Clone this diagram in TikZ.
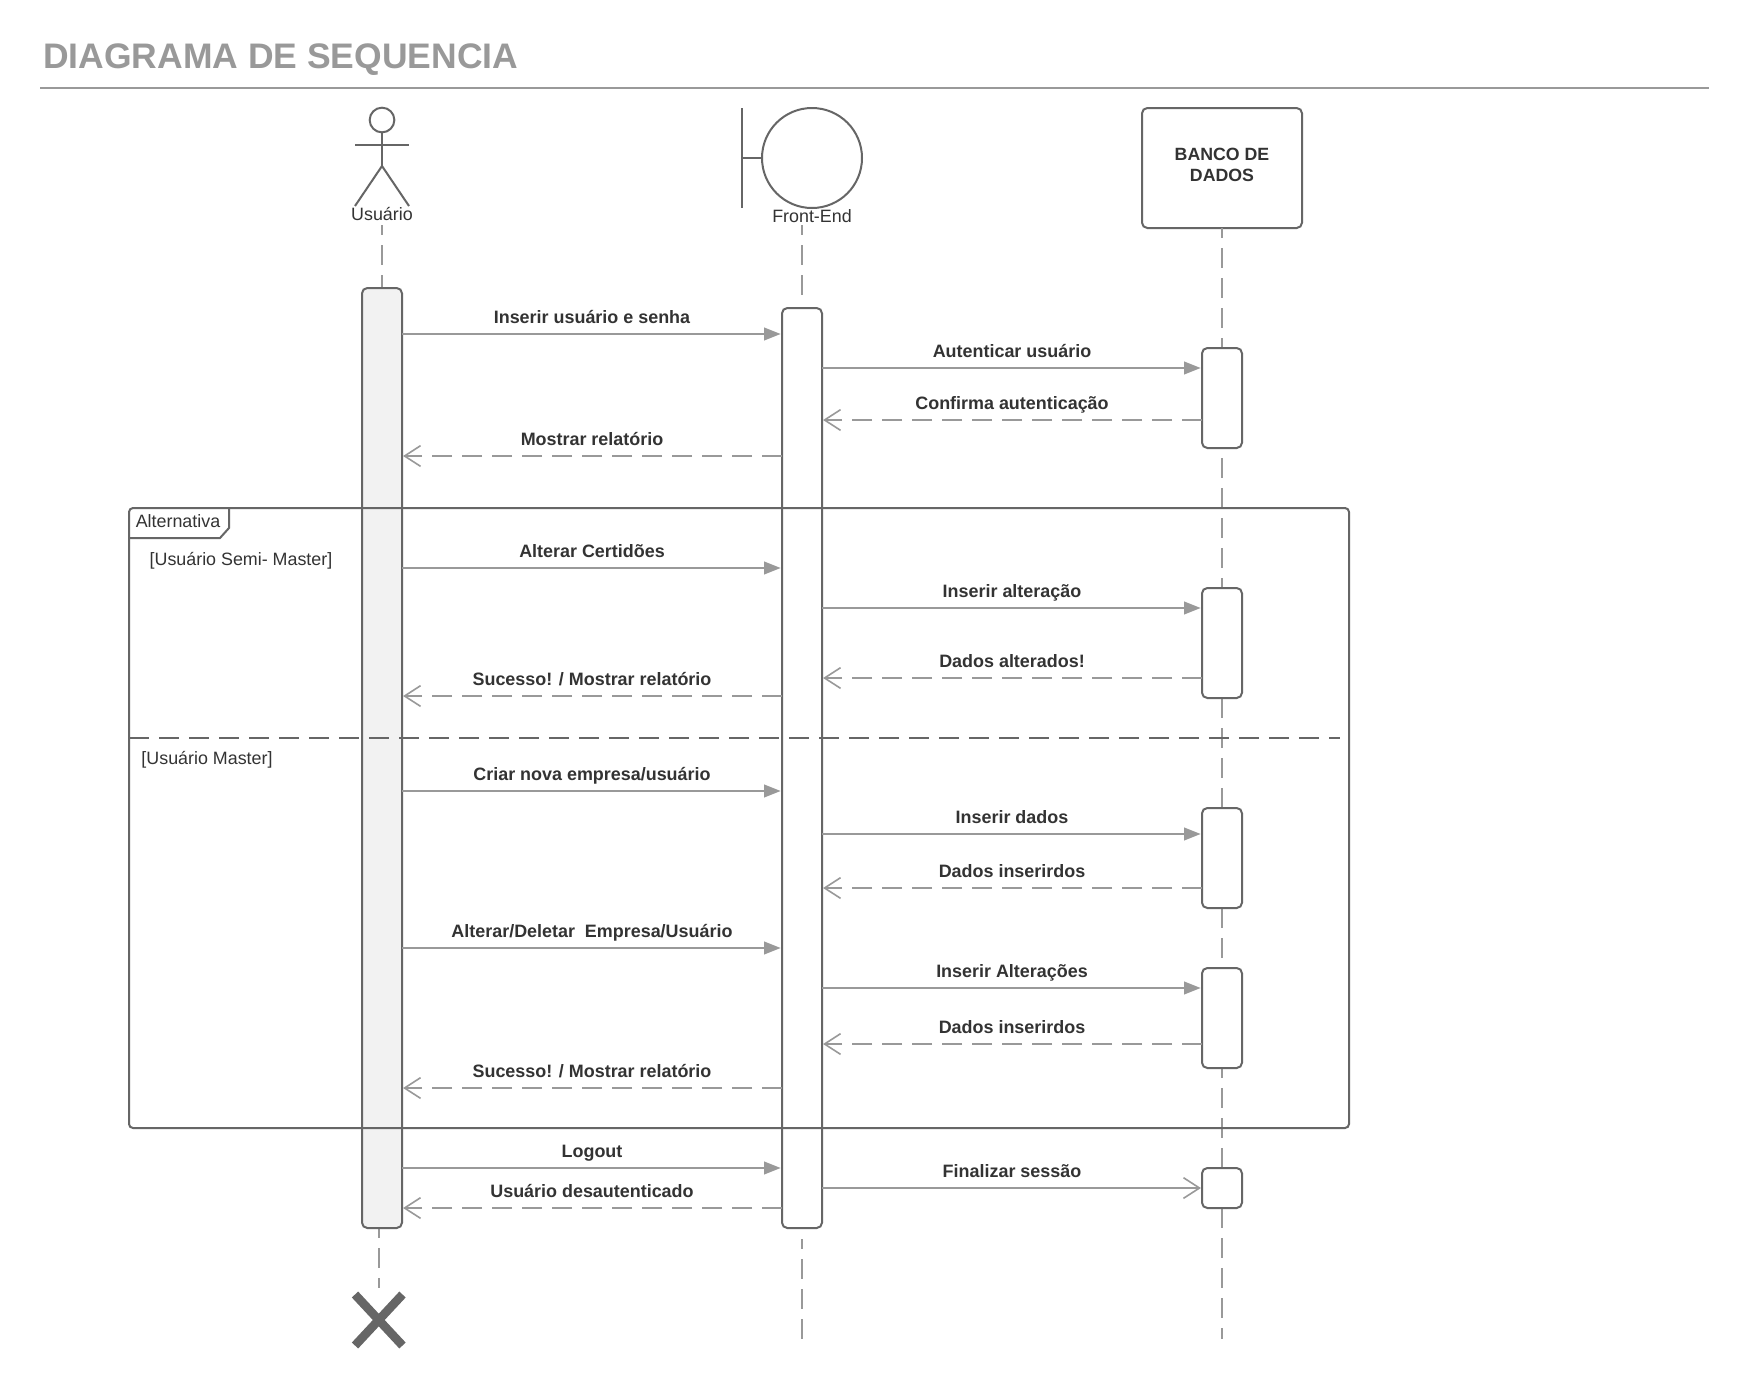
\documentclass[tikz,border=0pt]{standalone}
\usepackage{fontspec}
\setmainfont{Liberation Sans}
\usetikzlibrary{arrows.meta}
\definecolor{edgegray}{HTML}{666666}
\definecolor{linegray}{HTML}{999999}
\definecolor{textdark}{HTML}{333333}
\definecolor{actfill}{HTML}{F2F2F2}
\tikzset{
  x=0.75pt,y=-0.75pt,
  shapeline/.style={draw=edgegray,line width=1.5pt},
  lifeline/.style={draw=linegray,line width=1.35pt,dash pattern=on 15pt off 7.5pt,dash phase=7.5pt},
  actbox/.style={shapeline,fill=white,rounded corners=4pt,minimum width=30pt,inner sep=0pt,outer sep=0pt,rectangle},
  msgsync/.style={draw=linegray,line width=1.5pt,-{Triangle[length=12.5pt,width=9.5pt,fill=linegray]},shorten >=1pt},
  msgopen/.style={draw=linegray,line width=1.5pt,-{Straight Barb[length=12pt,width=15.5pt,line width=1.2pt]},shorten >=0.8pt},
  msgreturn/.style={draw=linegray,line width=1.5pt,dash pattern=on 15pt off 7.5pt,-{Straight Barb[length=12pt,width=15.5pt,line width=1.2pt,sep=0pt]},shorten >=0.8pt},
  msglabel/.style={pos=.5,anchor=base,yshift=8.1pt,inner sep=0pt,text=textdark,font=\fontsize{13.45pt}{16pt}\selectfont\bfseries},
  plainlabel/.style={inner sep=0pt,anchor=base,text=textdark,font=\fontsize{13.4pt}{16pt}\selectfont},
}
\begin{document}
\begin{tikzpicture}
\useasboundingbox[fill=white] (0,0) rectangle (1749,1393);

% title
\node[anchor=base west,inner sep=0pt,text=linegray,font=\fontsize{26.6pt}{32pt}\selectfont\bfseries] (title) at (43,68) {DIAGRAMA DE SEQUENCIA};
\coordinate (ruleL) at (40,88);
\coordinate (ruleR) at (1709,88);
\draw[draw=linegray,line width=1.5pt] (ruleL) -- (ruleR);

% actor
\node[circle,shapeline,minimum size=18.5pt,inner sep=0pt,outer sep=0pt] (head) at (382,120) {};
\coordinate (hip) at (382,166);
\coordinate (armL) at (355,145);
\coordinate (armR) at (409,145);
\coordinate (footL) at (355,206);
\coordinate (footR) at (409,206);
\draw[shapeline] (head.south) -- (hip);
\draw[shapeline] (armL) -- (armR);
\draw[shapeline] (footL) -- (hip) -- (footR);
\node[plainlabel] (lblU) at (382,220.5) {Usuário};

% boundary
\node[circle,shapeline,minimum size=75pt,inner sep=0pt,outer sep=0pt] (bound) at (812,158) {};
\coordinate (barT) at (742,108);
\coordinate (barB) at (742,208);
\coordinate (barM) at (742,158);
\draw[shapeline] (barT) -- (barB);
\draw[shapeline] (barM) -- (bound.west);
\node[plainlabel] (lblF) at (812,222.5) {Front-End};

% database
\node[rectangle,shapeline,rounded corners=4pt,minimum width=120pt,minimum height=90pt,inner sep=0pt,outer sep=0pt] (db) at (1222,168) {};
\node[plainlabel,font=\fontsize{13.3pt}{16pt}\selectfont\bfseries] (dbA) at (1222,160) {BANCO DE};
\node[plainlabel,font=\fontsize{13.3pt}{16pt}\selectfont\bfseries] (dbB) at (1222,181) {DADOS};

% lifelines
\coordinate (uT) at (382,225);
\coordinate (uB) at (382,288);
\coordinate (u2T) at (379,1228);
\coordinate (u2B) at (379,1288);
\coordinate (fT) at (802,225);
\coordinate (fB) at (802,298);
\coordinate (f2T) at (802,1239);
\coordinate (f2B) at (802,1339);
\coordinate (dEnd) at (1222,1339);
\draw[lifeline] (uT) -- (uB);
\draw[lifeline] (u2T) -- (u2B);
\draw[lifeline] (fT) -- (fB);
\draw[lifeline] (f2T) -- (f2B);
\draw[lifeline] (db.south) -- (dEnd);

% activations
\node[actbox,fill=actfill,minimum height=705pt] (aU) at (382,758) {};
\node[actbox,minimum height=690pt] (aF) at (802,768) {};
\node[actbox,minimum height=75pt] (d1) at (1222,398) {};
\node[actbox,minimum height=82.5pt] (d2) at (1222,643) {};
\node[actbox,minimum height=75pt] (d3) at (1222,858) {};
\node[actbox,minimum height=75pt] (d4) at (1222,1018) {};
\node[actbox,minimum height=30pt] (d5) at (1222,1188) {};

% destruction mark
\coordinate (xA) at (355,1294.5);
\coordinate (xB) at (402.5,1345.5);
\coordinate (xC) at (402.5,1294.5);
\coordinate (xD) at (355,1345.5);
\draw[draw=edgegray,line width=6.5pt] (xA) -- (xB);
\draw[draw=edgegray,line width=6.5pt] (xC) -- (xD);

% combined fragment
\node[rectangle,shapeline,rounded corners=3pt,minimum width=915pt,minimum height=465pt,inner sep=0pt,outer sep=0pt] (frag) at (739,818) {};
\coordinate (tabA) at (229,508);
\coordinate (tabB) at (229,528);
\coordinate (tabC) at (220,538);
\coordinate (tabD) at (129,538);
\draw[shapeline] (tabA) -- (tabB) -- (tabC) -- (tabD);
\node[plainlabel] (lblAlt) at (178,527) {Alternativa};
\node[plainlabel] (lblSemi) at (241,565) {[Usuário Semi- Master]};
\coordinate (divR) at (1340,738);
\draw[draw=edgegray,line width=1.5pt,dash pattern=on 15pt off 7.5pt] (frag.west |- divR) -- (divR);
\node[plainlabel] (lblMaster) at (207,764) {[Usuário Master]};

% messages
\draw[msgsync] (aU.east |- 0,334) -- node[msglabel] (m1) {Inserir usuário e senha} (aF.west |- 0,334);
\draw[msgsync] (aF.east |- 0,368) -- node[msglabel] (m2) {Autenticar usuário} (d1.west |- 0,368);
\draw[msgreturn] (d1.west |- 0,420) -- node[msglabel] (m3) {Confirma autenticação} (aF.east |- 0,420);
\draw[msgreturn] (aF.west |- 0,456) -- node[msglabel] (m4) {Mostrar relatório} (aU.east |- 0,456);

\draw[msgsync] (aU.east |- 0,568) -- node[msglabel] (m5) {Alterar Certidões} (aF.west |- 0,568);
\draw[msgsync] (aF.east |- 0,608) -- node[msglabel] (m6) {Inserir alteração} (d2.west |- 0,608);
\draw[msgreturn] (d2.west |- 0,678) -- node[msglabel] (m7) {Dados alterados!} (aF.east |- 0,678);
\draw[msgreturn] (aF.west |- 0,696) -- node[msglabel] (m8) {Sucesso! / Mostrar relatório} (aU.east |- 0,696);

\draw[msgsync] (aU.east |- 0,791) -- node[msglabel] (m9) {Criar nova empresa/usuário} (aF.west |- 0,791);
\draw[msgsync] (aF.east |- 0,834) -- node[msglabel] (m10) {Inserir dados} (d3.west |- 0,834);
\draw[msgreturn] (d3.west |- 0,888) -- node[msglabel] (m11) {Dados inserirdos} (aF.east |- 0,888);
\draw[msgsync] (aU.east |- 0,948) -- node[msglabel] (m12) {Alterar/Deletar\ \ Empresa/Usuário} (aF.west |- 0,948);
\draw[msgsync] (aF.east |- 0,988) -- node[msglabel] (m13) {Inserir Alterações} (d4.west |- 0,988);
\draw[msgreturn] (d4.west |- 0,1044) -- node[msglabel] (m14) {Dados inserirdos} (aF.east |- 0,1044);
\draw[msgreturn] (aF.west |- 0,1088) -- node[msglabel] (m15) {Sucesso! / Mostrar relatório} (aU.east |- 0,1088);

\draw[msgsync] (aU.east |- 0,1168) -- node[msglabel] (m16) {Logout} (aF.west |- 0,1168);
\draw[msgreturn] (aF.west |- 0,1208) -- node[msglabel] (m17) {Usuário desautenticado} (aU.east |- 0,1208);
\draw[msgopen] (aF.east |- 0,1188) -- node[msglabel] (m18) {Finalizar sessão} (d5.west |- 0,1188);
\end{tikzpicture}
\end{document}
